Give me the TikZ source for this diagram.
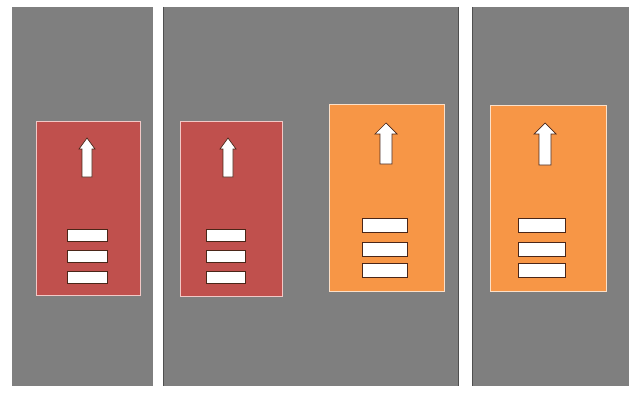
\documentclass[tikz,border=0pt]{standalone}
\begin{document}
\begin{tikzpicture}[x=1pt,y=-1pt,
  lanefill/.style={fill=lanegray,draw=none},
  redbox/.style={fill=boxred,draw=rededge,line width=1pt},
  orangebox/.style={fill=boxorange,draw=orangeedge,line width=1pt},
  bar/.style={fill=white,draw=barline,line width=0.9pt},
  arrowshape/.style={fill=white,draw=barline,line width=0.7pt,line join=miter}]
\definecolor{lanegray}{HTML}{7F7F7F}
\definecolor{boxred}{HTML}{C0504D}
\definecolor{boxorange}{HTML}{F79646}
\definecolor{rededge}{HTML}{F2C8C6}
\definecolor{orangeedge}{HTML}{FCE0C8}
\definecolor{barline}{HTML}{4A2618}
\definecolor{edgeline}{HTML}{4F4F4F}
\useasboundingbox (0,0) rectangle (629,393);
\fill[white] (0,0) rectangle (629,393);
% lanes
\fill[lanegray] (12,7) rectangle (153,386);
\fill[lanegray] (163,7) rectangle (459,386);
\fill[lanegray] (472,7) rectangle (629,386);
\draw[edgeline,line width=1.2pt] (163.6,7) -- (163.6,386);
\draw[edgeline,line width=1.2pt] (458.4,7) -- (458.4,386);
\draw[edgeline,line width=1.2pt] (472.6,7) -- (472.6,386);
% red box 1
\draw[redbox] (36,122) rectangle (140,295);
\draw[arrowshape] (87,138) -- (95,149) -- (92,149) -- (92,177) -- (82,177) -- (82,149) -- (79,149) -- cycle;
\draw[bar] (67,229) rectangle (107,241);
\draw[bar] (67,250) rectangle (107,262);
\draw[bar] (67,271) rectangle (107,283);
% red box 2
\draw[redbox] (180,122) rectangle (282,296);
\draw[arrowshape] (228,138) -- (236,149) -- (233,149) -- (233,177) -- (223,177) -- (223,149) -- (220,149) -- cycle;
\draw[bar] (206,229) rectangle (245,241);
\draw[bar] (206,250) rectangle (245,262);
\draw[bar] (206,271) rectangle (245,283);
% orange box 3
\draw[orangebox] (329,105) rectangle (444,291);
\draw[arrowshape] (386,123) -- (397,134) -- (392,134) -- (392,164) -- (380,164) -- (380,134) -- (375,134) -- cycle;
\draw[bar] (362,218) rectangle (407,232);
\draw[bar] (362,242) rectangle (407,256);
\draw[bar] (362,263) rectangle (407,277);
% orange box 4
\draw[orangebox] (490,106) rectangle (606,291);
\draw[arrowshape] (545,123) -- (556,134) -- (551,134) -- (551,165) -- (539,165) -- (539,134) -- (534,134) -- cycle;
\draw[bar] (518,218) rectangle (565,232);
\draw[bar] (518,242) rectangle (565,256);
\draw[bar] (518,263) rectangle (565,277);
\end{tikzpicture}
\end{document}
